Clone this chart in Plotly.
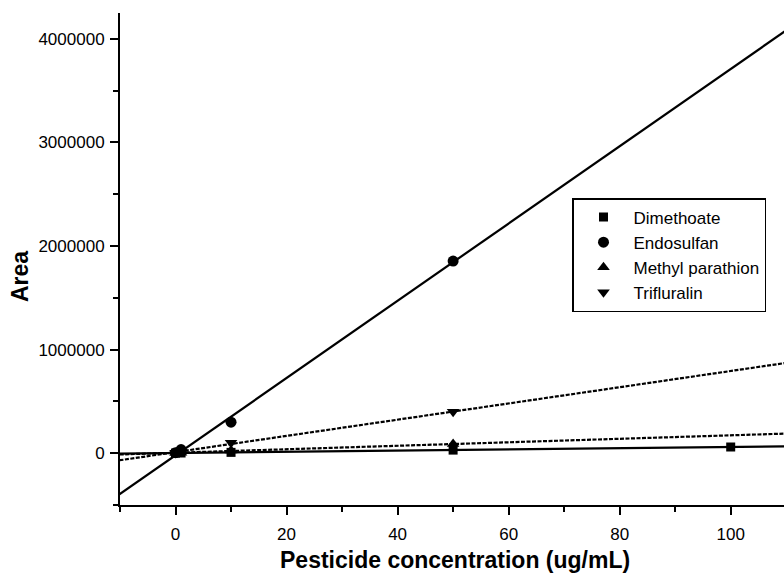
import numpy as np
import plotly.graph_objects as go

# ---- data ----
series_names = ["Dimethoate", "Endosulfan", "Methyl parathion", "Trifluralin"]

dimethoate_x = [0, 1, 10, 50, 100]
dimethoate_y = [1000, 2000, 8000, 30000, 60000]

endosulfan_x = [0, 1, 10, 50]
endosulfan_y = [5000, 35000, 300000, 1855000]

methyl_parathion_x = [0, 1, 10, 50]
methyl_parathion_y = [3000, 5000, 25000, 88000]

trifluralin_x = [0, 1, 10, 50]
trifluralin_y = [5000, 15000, 100000, 400000]

x_range = [-10, 109.6]
y_range = [-500000, 4250000]
x_tick_vals = [0, 20, 40, 60, 80, 100]
y_tick_vals = [0, 1000000, 2000000, 3000000, 4000000]
y_tick_text = ["0", "1000000", "2000000", "3000000", "4000000"]

# ---- styles ----
markers = ["square", "circle", "triangle-up", "triangle-down"]
marker_sizes = [9, 11, 11, 11]
line_dash = ["solid", "solid", "4px,1.5px", "4px,1.5px"]
xs = [dimethoate_x, endosulfan_x, methyl_parathion_x, trifluralin_x]
ys = [dimethoate_y, endosulfan_y, methyl_parathion_y, trifluralin_y]

fig = go.Figure()
fit_x = np.array([-15.0, 115.0])
for name, x, y, dash in zip(series_names, xs, ys, line_dash):
    k, b = np.polyfit(x, y, 1)
    fig.add_trace(go.Scatter(
        x=fit_x, y=k * fit_x + b, mode="lines",
        line=dict(color="black", width=2.2, dash=dash),
        showlegend=False, hoverinfo="skip"))
for name, x, y, m, s in zip(series_names, xs, ys, markers, marker_sizes):
    fig.add_trace(go.Scatter(
        x=x, y=y, mode="markers", name=name,
        marker=dict(symbol=m, color="black", size=s, line=dict(width=0))))

W, H = 784, 578
L, T, B = 120, 13, 73
pw, ph = W - L, H - T - B

font_family = "Liberation Sans, Arial, sans-serif"
fig.update_layout(
    width=W, height=H,
    margin=dict(l=L, r=0, t=T, b=B, autoexpand=False),
    plot_bgcolor="white", paper_bgcolor="white",
    font=dict(family=font_family, color="black", size=17),
    showlegend=True,
    legend=dict(
        x=(572 - L) / pw, y=1 - (198 - T) / ph,
        xanchor="left", yanchor="top",
        bgcolor="white", bordercolor="black", borderwidth=1.5,
        font=dict(size=17, family=font_family),
        itemwidth=50, tracegroupgap=0,
    ),
)

fig.update_xaxes(
    range=x_range, showgrid=False, zeroline=False,
    showline=True, linecolor="black", linewidth=2,
    ticks="outside", ticklen=8, tickwidth=2, tickcolor="black",
    ticklabelstandoff=5,
    tickvals=x_tick_vals, tickfont=dict(size=17),
    minor=dict(dtick=10, tick0=0, ticks="outside", ticklen=5,
               tickwidth=2, tickcolor="black"),
)
fig.update_yaxes(
    range=y_range, showgrid=False, zeroline=False,
    showline=True, linecolor="black", linewidth=2,
    ticks="outside", ticklen=8, tickwidth=2, tickcolor="black",
    ticklabelstandoff=2,
    tickvals=y_tick_vals, ticktext=y_tick_text, tickfont=dict(size=17),
    minor=dict(dtick=500000, tick0=0, ticks="outside", ticklen=5,
               tickwidth=2, tickcolor="black"),
)

fig.add_annotation(
    text="<b>Pesticide concentration (ug/mL)</b>",
    xref="paper", yref="paper", x=(455 - L) / pw, y=-(560 - 505) / ph,
    xanchor="center", yanchor="middle", showarrow=False,
    font=dict(size=23, family=font_family))
fig.add_annotation(
    text="<b>Area</b>", textangle=-90,
    xref="paper", yref="paper", x=-(L - 20) / pw, y=1 - (276 - T) / ph,
    xanchor="center", yanchor="middle", showarrow=False,
    font=dict(size=23, family=font_family))

fig.write_html(
    "out.html",
    config={"displayModeBar": False},
    post_script="document.body.style.margin='0px';"
                "document.body.style.overflow='hidden';",
)
